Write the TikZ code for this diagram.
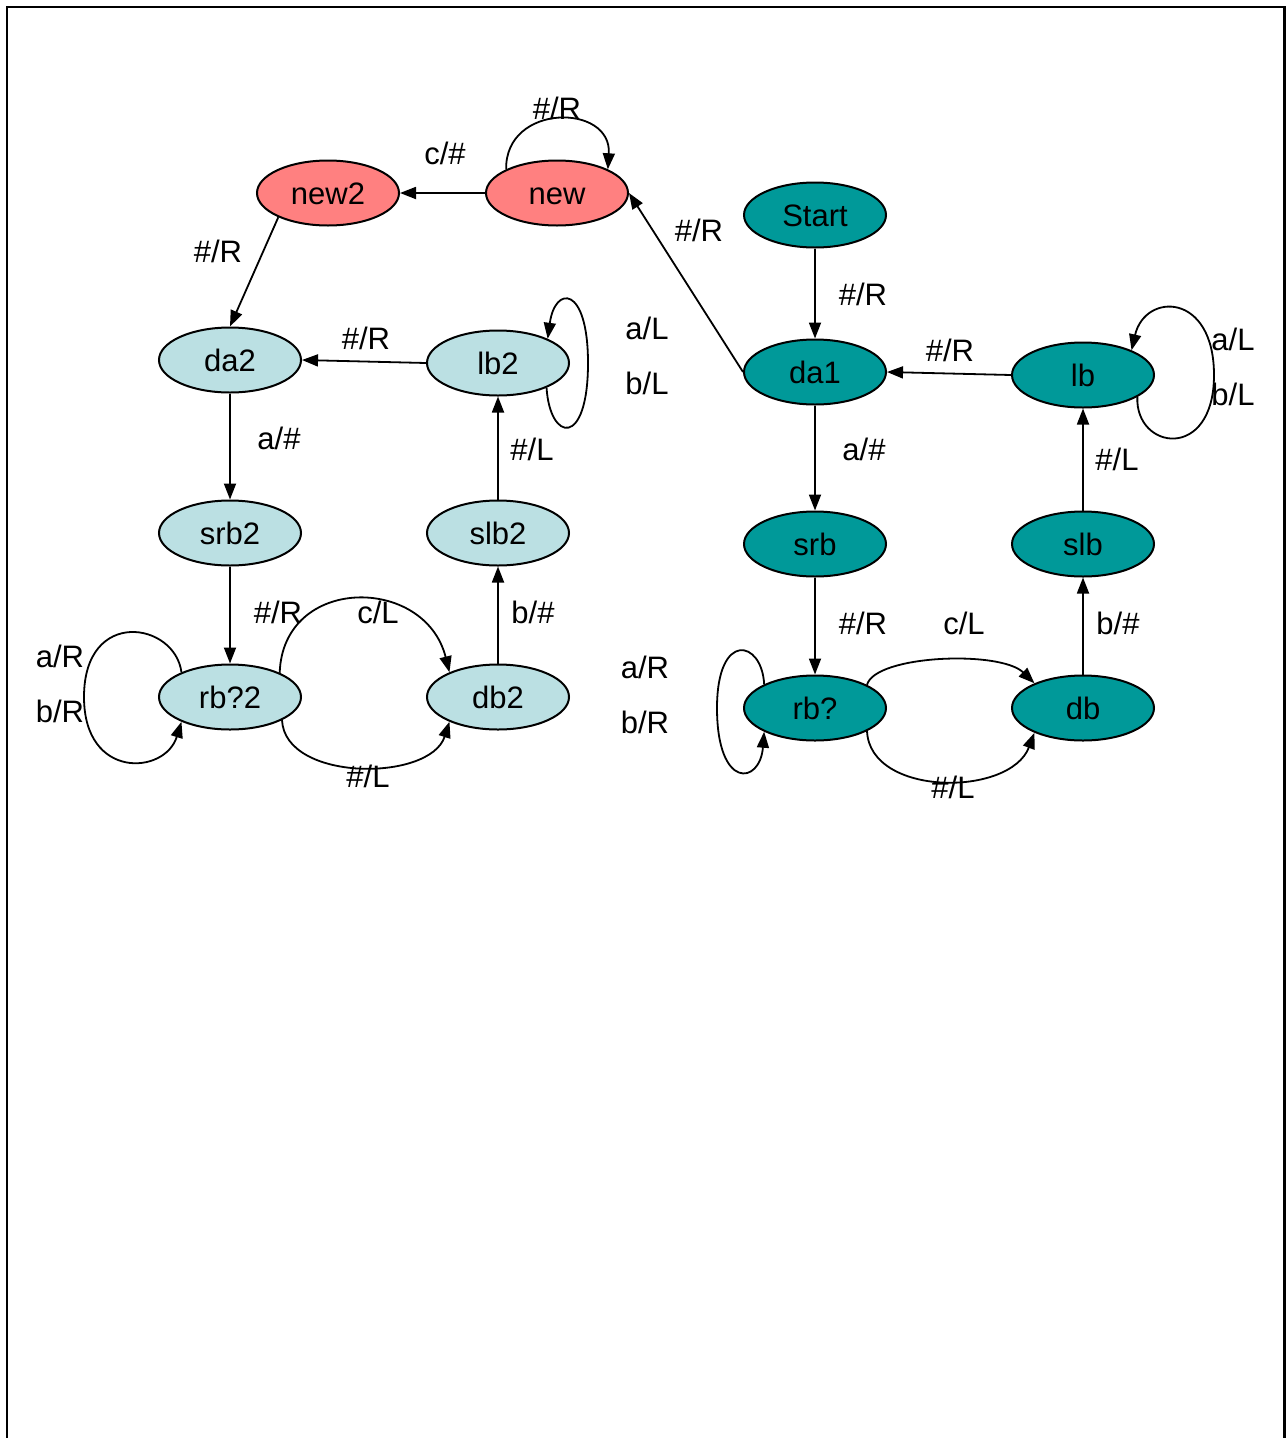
\documentclass[tikz,border=0pt]{standalone}
\usepackage{fontspec}
\setmainfont{Liberation Sans}
\usetikzlibrary{shapes.geometric,arrows.meta}
\definecolor{teal1}{HTML}{009999}
\definecolor{light1}{HTML}{BBE0E3}
\definecolor{red1}{HTML}{FF8080}
\begin{document}
\begin{tikzpicture}[x=1pt,y=-1pt,
  every node/.style={font=\fontsize{31}{36}\selectfont},
  st/.style={ellipse,draw=black,line width=2pt,minimum width=142pt,minimum height=65pt,inner sep=0pt,text height=22pt,text depth=0pt},
  tealst/.style={st,fill=teal1},
  lightst/.style={st,fill=light1},
  redst/.style={st,fill=red1},
  lbl/.style={anchor=base,inner sep=0pt},
  edge/.style={line width=1.8pt,-{Triangle[length=16pt,width=12pt]}},
  frame/.style={line width=2.5pt}]
\useasboundingbox (0,0) rectangle (1286,1438);
\draw[frame] (7,1440) -- (7,7) -- (1284.5,7) -- (1284.5,1440);

% states
\node[redst] (new2) at (328,193) {new2};
\node[redst] (new) at (557,193) {new};
\node[tealst] (start) at (815,215) {Start};
\node[lightst] (da2) at (230,360) {da2};
\node[lightst] (lb2) at (498,363) {lb2};
\node[tealst] (da1) at (815,372) {da1};
\node[tealst] (lb) at (1083,375) {lb};
\node[lightst] (srb2) at (230,533) {srb2};
\node[lightst] (slb2) at (498,533) {slb2};
\node[tealst] (srb) at (815,544) {srb};
\node[tealst] (slb) at (1083,544) {slb};
\node[lightst] (rbq2) at (230,697) {rb?2};
\node[lightst] (db2) at (498,697) {db2};
\node[tealst] (rbq) at (815,708) {rb?};
\node[tealst] (db) at (1083,708) {db};

% straight transitions
\draw[edge] (new.west) -- (new2.east);
\draw[edge] (da1.west) -- (new.east);
\draw[edge] (start.south) -- (da1.north);
\draw[edge] (new2.-154) -- (da2.north);
\draw[edge] (lb2.west) -- (da2.east);
\draw[edge] (lb.west) -- (da1.east);
\draw[edge] (da2.south) -- (srb2.north);
\draw[edge] (slb2.north) -- (lb2.south);
\draw[edge] (srb2.south) -- (rbq2.north);
\draw[edge] (db2.north) -- (slb2.south);
\draw[edge] (da1.south) -- (srb.north);
\draw[edge] (srb.south) -- (rbq.north);
\draw[edge] (slb.north) -- (lb.south);
\draw[edge] (db.north) -- (slb.south);

% curved transitions
\draw[edge] (rbq2.26) .. controls (283,575) and (425,575) .. (db2.153);
\draw[edge] (rbq2.-24) .. controls (285,782) and (430,782) .. (db2.-153);
\draw[edge] (rbq.24) .. controls (875,655) and (1000,650) .. (db.153);
\draw[edge] (rbq.-24) .. controls (870,797) and (1010,797) .. (db.-153);

% self loops
\draw[edge] (new.155) .. controls (505,103) and (612,103) .. (new.25);
\draw[edge] (lb2.-27) .. controls (550,442) and (588,448) .. (588,363) .. controls (588,285) and (555,285) .. (lb2.26);
\draw[edge] (lb.-22) .. controls (1135,450) and (1214,462) .. (1214,375) .. controls (1214,292) and (1145,292) .. (lb.27);
\draw[edge] (rbq2.153) .. controls (175,622) and (84,607) .. (84,697) .. controls (84,780) and (165,775) .. (rbq2.-153);
\draw[edge] (rbq.155) .. controls (762,640) and (717,630) .. (717,708) .. controls (717,790) and (760,785) .. (rbq.-155);

% labels
\node[lbl] (l1) at (557,119) {\#/R};
\node[lbl] (l2) at (445,164) {c/\#};
\node[lbl] (l3) at (699,241) {\#/R};
\node[lbl] (l4) at (218,262) {\#/R};
\node[lbl] (l5) at (863,305) {\#/R};
\node[lbl] (l6) at (366,349) {\#/R};
\node[lbl] (l7) at (647,339) {a/L};
\node[lbl] (l8) at (647,394) {b/L};
\node[lbl] (l9) at (950,361) {\#/R};
\node[lbl] (l10) at (1233,350) {a/L};
\node[lbl] (l11) at (1233,405) {b/L};
\node[lbl] (l12) at (279,449) {a/\#};
\node[lbl] (l13) at (532,460) {\#/L};
\node[lbl] (l14) at (864,460) {a/\#};
\node[lbl] (l15) at (1117,470) {\#/L};
\node[lbl] (l16) at (278,623) {\#/R};
\node[lbl] (l17) at (378,623) {c/L};
\node[lbl] (l18) at (533,623) {b/\#};
\node[lbl] (l19) at (863,634) {\#/R};
\node[lbl] (l20) at (964,634) {c/L};
\node[lbl] (l21) at (1118,634) {b/\#};
\node[lbl] (l22) at (60,667) {a/R};
\node[lbl] (l23) at (60,722) {b/R};
\node[lbl] (l24) at (645,678) {a/R};
\node[lbl] (l25) at (645,733) {b/R};
\node[lbl] (l26) at (368,787) {\#/L};
\node[lbl] (l27) at (953,798) {\#/L};
\end{tikzpicture}
\end{document}
